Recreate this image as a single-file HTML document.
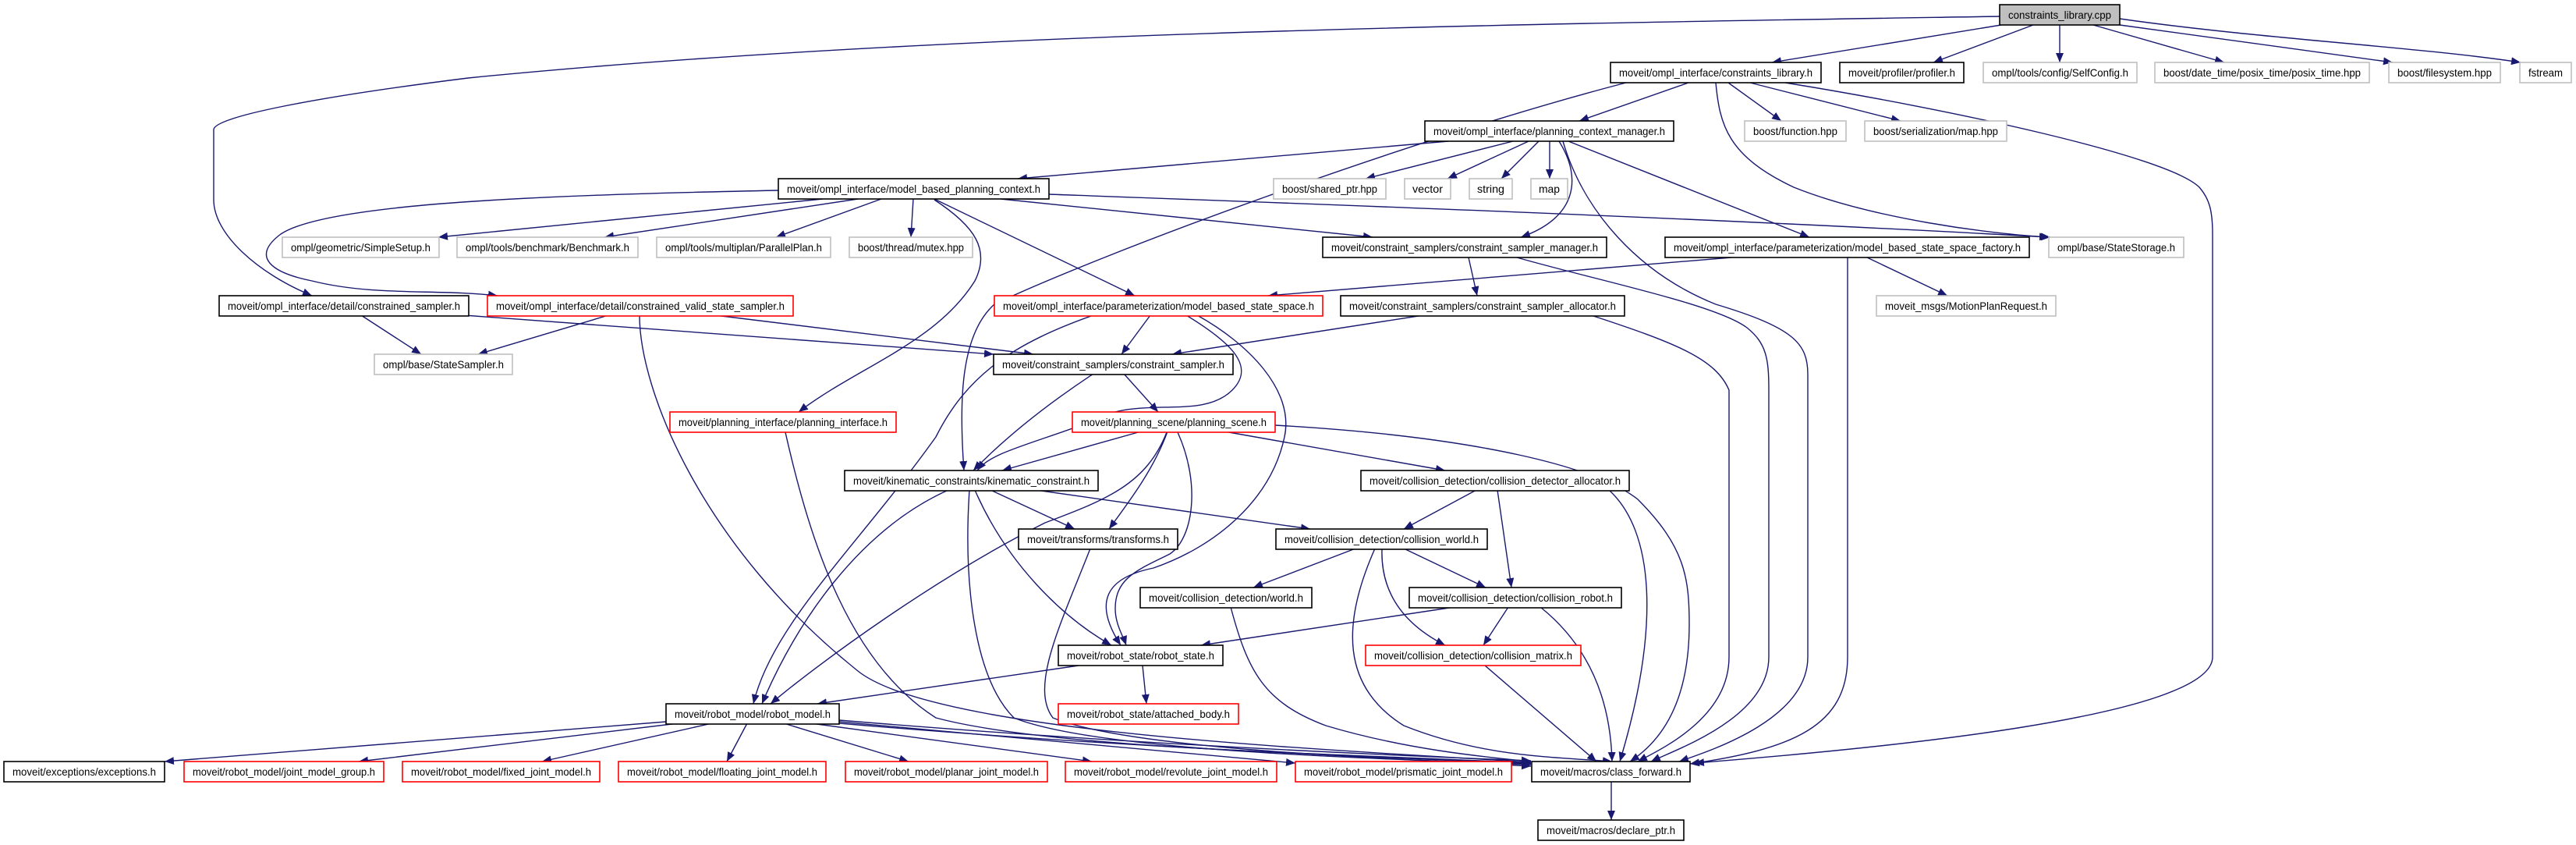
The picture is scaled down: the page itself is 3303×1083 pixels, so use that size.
<!DOCTYPE html>
<html><head><meta charset="utf-8"><style>
html,body{margin:0;padding:0;background:#fff;}
svg{display:block;}
text{font-family:"Liberation Sans",Arial,sans-serif;font-size:14px;fill:#000;}
.e{fill:none;stroke:#191970;stroke-width:1.4;}
.b{fill:#fff;stroke:#000;stroke-width:1.6;}
.g{fill:#fff;stroke:#bfbfbf;stroke-width:1.6;}
.r{fill:#fff;stroke:#ff0000;stroke-width:1.6;}
.c{fill:#bfbfbf;stroke:#000;stroke-width:1.6;}
</style></head><body>
<svg width="3303" height="1083" viewBox="0 0 3303 1083" xmlns="http://www.w3.org/2000/svg">
<defs>
<marker id="a" markerUnits="userSpaceOnUse" markerWidth="14" markerHeight="10" refX="12" refY="5" orient="auto">
<path d="M0,0 L12,5 L0,10 z" fill="#191970"/>
</marker>
</defs>
<g class="edges">
<path class="e" marker-end="url(#a)" d="M2566,32 L2272,80"/>
<path class="e" marker-end="url(#a)" d="M2607,32 L2479,80"/>
<path class="e" marker-end="url(#a)" d="M2641,32 L2641,80"/>
<path class="e" marker-end="url(#a)" d="M2684,32 L2852,80"/>
<path class="e" marker-end="url(#a)" d="M2718,32 L3068,80"/>
<path class="e" marker-end="url(#a)" d="M2718,24 C2900,50 3100,60 3232,80"/>
<path class="e" marker-end="url(#a)" d="M2564,21 C2000,30 1200,40 600,100 C400,125 275,150 274,166 L274,256 C274,300 330,350 400,379"/>
<path class="e" marker-end="url(#a)" d="M2165,106 L2025,155"/>
<path class="e" marker-end="url(#a)" d="M2216,106 L2284,155"/>
<path class="e" marker-end="url(#a)" d="M2244,106 L2437,155"/>
<path class="e" marker-end="url(#a)" d="M2200,106 C2205,160 2215,200 2300,240 C2400,280 2550,300 2629,304"/>
<path class="e" marker-end="url(#a)" d="M2289,106 C2500,140 2780,200 2820,240 C2833,255 2837,270 2837,300 L2837,842 C2837,920 2400,960 2173,978"/>
<path class="e" marker-end="url(#a)" d="M2085,106 C1800,180 1400,330 1275,390 C1230,430 1230,520 1236,603"/>
<path class="e" marker-end="url(#a)" d="M1857,181 L1305,229"/>
<path class="e" marker-end="url(#a)" d="M1940,181 L1751,229"/>
<path class="e" marker-end="url(#a)" d="M1960,181 L1856,229"/>
<path class="e" marker-end="url(#a)" d="M1973,181 L1925,229"/>
<path class="e" marker-end="url(#a)" d="M1987,181 L1987,229"/>
<path class="e" marker-end="url(#a)" d="M1999,181 C2030,230 2020,280 1950,304"/>
<path class="e" marker-end="url(#a)" d="M2011,181 L2320,304"/>
<path class="e" marker-end="url(#a)" d="M2004,181 C2030,270 2100,350 2200,390 C2300,420 2318,440 2318,480 L2318,842 C2318,920 2200,960 2153,976"/>
<path class="e" marker-end="url(#a)" d="M1055,255 L562,304"/>
<path class="e" marker-end="url(#a)" d="M1100,255 L775,304"/>
<path class="e" marker-end="url(#a)" d="M1130,255 L995,304"/>
<path class="e" marker-end="url(#a)" d="M1171,255 L1168,304"/>
<path class="e" marker-end="url(#a)" d="M998,244 C700,250 420,260 360,300 C320,330 350,350 400,360 C480,380 560,370 638,379"/>
<path class="e" marker-end="url(#a)" d="M1345,249 C1700,262 2200,280 2627,304"/>
<path class="e" marker-end="url(#a)" d="M1283,255 L1760,304"/>
<path class="e" marker-end="url(#a)" d="M1198,255 L1455,379"/>
<path class="e" marker-end="url(#a)" d="M1198,256 C1250,290 1270,320 1250,360 C1200,440 1100,470 1024,528"/>
<path class="e" marker-end="url(#a)" d="M463,404 L540,454"/>
<path class="e" marker-end="url(#a)" d="M595,404 L1274,454"/>
<path class="e" marker-end="url(#a)" d="M780,404 L613,454"/>
<path class="e" marker-end="url(#a)" d="M917,404 L1325,454"/>
<path class="e" marker-end="url(#a)" d="M820,404 C820,500 900,700 1100,860 C1200,940 1700,960 1963,977"/>
<path class="e" marker-end="url(#a)" d="M1475,404 L1438,454"/>
<path class="e" marker-end="url(#a)" d="M1521,404 C1580,440 1610,470 1580,500 C1540,540 1460,505 1400,540 C1320,570 1270,580 1253,603"/>
<path class="e" marker-end="url(#a)" d="M1402,404 C1300,440 1240,480 1200,560 C1100,700 990,800 966,902"/>
<path class="e" marker-end="url(#a)" d="M1535,404 C1600,440 1660,500 1647,560 C1630,640 1560,700 1479,728 C1420,740 1400,770 1437,827"/>
<path class="e" marker-end="url(#a)" d="M1883,330 L1894,379"/>
<path class="e" marker-end="url(#a)" d="M1945,330 C2050,360 2200,390 2240,420 C2265,440 2268,460 2268,500 L2268,842 C2268,920 2150,960 2117,976"/>
<path class="e" marker-end="url(#a)" d="M2220,330 L1626,379"/>
<path class="e" marker-end="url(#a)" d="M2394,330 L2497,379"/>
<path class="e" marker-end="url(#a)" d="M2369,330 L2369,842 C2369,930 2300,960 2167,979"/>
<path class="e" marker-end="url(#a)" d="M1825,404 L1503,454"/>
<path class="e" marker-end="url(#a)" d="M2040,404 C2150,440 2200,460 2217,500 L2217,842 C2217,920 2130,960 2100,976"/>
<path class="e" marker-end="url(#a)" d="M1402,479 C1340,520 1290,560 1248,603"/>
<path class="e" marker-end="url(#a)" d="M1441,479 L1485,528"/>
<path class="e" marker-end="url(#a)" d="M1007,554 C1040,700 1090,850 1200,920 C1350,960 1700,965 1963,978"/>
<path class="e" marker-end="url(#a)" d="M1463,553 L1285,603"/>
<path class="e" marker-end="url(#a)" d="M1570,553 L1853,603"/>
<path class="e" marker-end="url(#a)" d="M1497,553 C1480,600 1450,640 1422,678"/>
<path class="e" marker-end="url(#a)" d="M1510,554 C1540,620 1530,690 1500,710 C1460,730 1430,740 1430,780 C1430,800 1440,815 1444,827"/>
<path class="e" marker-end="url(#a)" d="M1496,554 C1470,620 1420,640 1340,670 C1200,740 1050,850 988,902"/>
<path class="e" marker-end="url(#a)" d="M1635,545 C1900,560 2050,600 2100,640 C2160,700 2166,740 2166,800 C2166,900 2130,950 2090,976"/>
<path class="e" marker-end="url(#a)" d="M1270,628 L1378,678"/>
<path class="e" marker-end="url(#a)" d="M1328,628 L1680,678"/>
<path class="e" marker-end="url(#a)" d="M1250,628 C1290,720 1360,790 1425,827"/>
<path class="e" marker-end="url(#a)" d="M1216,628 C1100,680 1020,800 977,902"/>
<path class="e" marker-end="url(#a)" d="M1243,628 C1235,750 1250,870 1300,920 C1400,960 1700,970 1963,980"/>
<path class="e" marker-end="url(#a)" d="M1398,703 C1360,800 1320,880 1350,920 C1450,960 1750,970 1963,982"/>
<path class="e" marker-end="url(#a)" d="M1893,628 L1800,678"/>
<path class="e" marker-end="url(#a)" d="M1920,628 L1938,753"/>
<path class="e" marker-end="url(#a)" d="M2063,628 C2120,680 2130,800 2077,976"/>
<path class="e" marker-end="url(#a)" d="M1738,703 L1607,753"/>
<path class="e" marker-end="url(#a)" d="M1800,703 L1905,753"/>
<path class="e" marker-end="url(#a)" d="M1772,703 C1770,760 1800,800 1853,827"/>
<path class="e" marker-end="url(#a)" d="M1763,703 C1720,800 1720,880 1800,930 C1900,970 1990,970 2067,976"/>
<path class="e" marker-end="url(#a)" d="M1578,778 C1600,860 1620,900 1700,930 C1800,960 1900,970 1963,976"/>
<path class="e" marker-end="url(#a)" d="M1865,778 L1540,827"/>
<path class="e" marker-end="url(#a)" d="M1934,778 L1902,827"/>
<path class="e" marker-end="url(#a)" d="M1975,778 C2040,830 2065,900 2067,976"/>
<path class="e" marker-end="url(#a)" d="M1465,853 L1470,902"/>
<path class="e" marker-end="url(#a)" d="M1383,853 L1048,902"/>
<path class="e" marker-end="url(#a)" d="M1904,853 L2047,976"/>
<path class="e" marker-end="url(#a)" d="M854,925 L211,976"/>
<path class="e" marker-end="url(#a)" d="M870,927 L460,976"/>
<path class="e" marker-end="url(#a)" d="M913,927 L695,976"/>
<path class="e" marker-end="url(#a)" d="M958,927 L932,976"/>
<path class="e" marker-end="url(#a)" d="M1005,927 L1165,976"/>
<path class="e" marker-end="url(#a)" d="M1040,927 L1400,976"/>
<path class="e" marker-end="url(#a)" d="M1076,925 L1661,978"/>
<path class="e" marker-end="url(#a)" d="M1076,923 C1400,950 1700,965 1963,975"/>
<path class="e" marker-end="url(#a)" d="M1076,927 C1400,955 1700,968 1963,979"/>
<path class="e" marker-end="url(#a)" d="M2066,1002 L2066,1051"/>
</g>
<g class="nodes">
<rect class="c" x="2564" y="6" width="154" height="26"/><text x="2575" y="24" textLength="132" lengthAdjust="spacingAndGlyphs">constraints_library.cpp</text>
<rect class="b" x="2065" y="80" width="270" height="26"/><text x="2076" y="98" textLength="248" lengthAdjust="spacingAndGlyphs">moveit/ompl_interface/constraints_library.h</text>
<rect class="b" x="2359" y="80" width="159" height="26"/><text x="2370" y="98" textLength="137" lengthAdjust="spacingAndGlyphs">moveit/profiler/profiler.h</text>
<rect class="g" x="2543" y="80" width="197" height="26"/><text x="2554" y="98" textLength="175" lengthAdjust="spacingAndGlyphs">ompl/tools/config/SelfConfig.h</text>
<rect class="g" x="2763" y="80" width="275" height="26"/><text x="2774" y="98" textLength="253" lengthAdjust="spacingAndGlyphs">boost/date_time/posix_time/posix_time.hpp</text>
<rect class="g" x="3063" y="80" width="143" height="26"/><text x="3074" y="98" textLength="121" lengthAdjust="spacingAndGlyphs">boost/filesystem.hpp</text>
<rect class="g" x="3231" y="80" width="66" height="26"/><text x="3242" y="98" textLength="44" lengthAdjust="spacingAndGlyphs">fstream</text>
<rect class="b" x="1827" y="155" width="319" height="26"/><text x="1838" y="173" textLength="297" lengthAdjust="spacingAndGlyphs">moveit/ompl_interface/planning_context_manager.h</text>
<rect class="g" x="2237" y="155" width="130" height="26"/><text x="2248" y="173" textLength="108" lengthAdjust="spacingAndGlyphs">boost/function.hpp</text>
<rect class="g" x="2391" y="155" width="182" height="26"/><text x="2402" y="173" textLength="160" lengthAdjust="spacingAndGlyphs">boost/serialization/map.hpp</text>
<rect class="b" x="998" y="229" width="347" height="26"/><text x="1009" y="247" textLength="325" lengthAdjust="spacingAndGlyphs">moveit/ompl_interface/model_based_planning_context.h</text>
<rect class="g" x="1633" y="229" width="144" height="26"/><text x="1644" y="247" textLength="122" lengthAdjust="spacingAndGlyphs">boost/shared_ptr.hpp</text>
<rect class="g" x="1801" y="229" width="59" height="26"/><text x="1811" y="247" textLength="39" lengthAdjust="spacingAndGlyphs">vector</text>
<rect class="g" x="1884" y="229" width="55" height="26"/><text x="1894" y="247" textLength="35" lengthAdjust="spacingAndGlyphs">string</text>
<rect class="g" x="1963" y="229" width="47" height="26"/><text x="1973" y="247" textLength="27" lengthAdjust="spacingAndGlyphs">map</text>
<rect class="g" x="362" y="304" width="201" height="26"/><text x="373" y="322" textLength="179" lengthAdjust="spacingAndGlyphs">ompl/geometric/SimpleSetup.h</text>
<rect class="g" x="586" y="304" width="232" height="26"/><text x="597" y="322" textLength="210" lengthAdjust="spacingAndGlyphs">ompl/tools/benchmark/Benchmark.h</text>
<rect class="g" x="842" y="304" width="223" height="26"/><text x="853" y="322" textLength="201" lengthAdjust="spacingAndGlyphs">ompl/tools/multiplan/ParallelPlan.h</text>
<rect class="g" x="1089" y="304" width="158" height="26"/><text x="1100" y="322" textLength="136" lengthAdjust="spacingAndGlyphs">boost/thread/mutex.hpp</text>
<rect class="b" x="1696" y="304" width="364" height="26"/><text x="1707" y="322" textLength="342" lengthAdjust="spacingAndGlyphs">moveit/constraint_samplers/constraint_sampler_manager.h</text>
<rect class="b" x="2135" y="304" width="467" height="26"/><text x="2146" y="322" textLength="445" lengthAdjust="spacingAndGlyphs">moveit/ompl_interface/parameterization/model_based_state_space_factory.h</text>
<rect class="g" x="2627" y="304" width="173" height="26"/><text x="2638" y="322" textLength="151" lengthAdjust="spacingAndGlyphs">ompl/base/StateStorage.h</text>
<rect class="b" x="281" y="379" width="320" height="26"/><text x="292" y="397" textLength="298" lengthAdjust="spacingAndGlyphs">moveit/ompl_interface/detail/constrained_sampler.h</text>
<rect class="r" x="625" y="379" width="392" height="26"/><text x="636" y="397" textLength="370" lengthAdjust="spacingAndGlyphs">moveit/ompl_interface/detail/constrained_valid_state_sampler.h</text>
<rect class="r" x="1275" y="379" width="421" height="26"/><text x="1286" y="397" textLength="399" lengthAdjust="spacingAndGlyphs">moveit/ompl_interface/parameterization/model_based_state_space.h</text>
<rect class="b" x="1719" y="379" width="364" height="26"/><text x="1730" y="397" textLength="342" lengthAdjust="spacingAndGlyphs">moveit/constraint_samplers/constraint_sampler_allocator.h</text>
<rect class="g" x="2406" y="379" width="230" height="26"/><text x="2417" y="397" textLength="208" lengthAdjust="spacingAndGlyphs">moveit_msgs/MotionPlanRequest.h</text>
<rect class="g" x="480" y="454" width="177" height="26"/><text x="491" y="472" textLength="155" lengthAdjust="spacingAndGlyphs">ompl/base/StateSampler.h</text>
<rect class="b" x="1274" y="454" width="307" height="26"/><text x="1285" y="472" textLength="285" lengthAdjust="spacingAndGlyphs">moveit/constraint_samplers/constraint_sampler.h</text>
<rect class="r" x="859" y="528" width="290" height="26"/><text x="870" y="546" textLength="268" lengthAdjust="spacingAndGlyphs">moveit/planning_interface/planning_interface.h</text>
<rect class="r" x="1375" y="528" width="260" height="26"/><text x="1386" y="546" textLength="238" lengthAdjust="spacingAndGlyphs">moveit/planning_scene/planning_scene.h</text>
<rect class="b" x="1083" y="603" width="325" height="26"/><text x="1094" y="621" textLength="303" lengthAdjust="spacingAndGlyphs">moveit/kinematic_constraints/kinematic_constraint.h</text>
<rect class="b" x="1745" y="603" width="344" height="26"/><text x="1756" y="621" textLength="322" lengthAdjust="spacingAndGlyphs">moveit/collision_detection/collision_detector_allocator.h</text>
<rect class="b" x="1306" y="678" width="204" height="26"/><text x="1317" y="696" textLength="182" lengthAdjust="spacingAndGlyphs">moveit/transforms/transforms.h</text>
<rect class="b" x="1636" y="678" width="271" height="26"/><text x="1647" y="696" textLength="249" lengthAdjust="spacingAndGlyphs">moveit/collision_detection/collision_world.h</text>
<rect class="b" x="1462" y="753" width="220" height="26"/><text x="1473" y="771" textLength="198" lengthAdjust="spacingAndGlyphs">moveit/collision_detection/world.h</text>
<rect class="b" x="1807" y="753" width="272" height="26"/><text x="1818" y="771" textLength="250" lengthAdjust="spacingAndGlyphs">moveit/collision_detection/collision_robot.h</text>
<rect class="b" x="1357" y="827" width="211" height="26"/><text x="1368" y="845" textLength="189" lengthAdjust="spacingAndGlyphs">moveit/robot_state/robot_state.h</text>
<rect class="r" x="1751" y="827" width="276" height="26"/><text x="1762" y="845" textLength="254" lengthAdjust="spacingAndGlyphs">moveit/collision_detection/collision_matrix.h</text>
<rect class="r" x="1357" y="902" width="231" height="26"/><text x="1368" y="920" textLength="209" lengthAdjust="spacingAndGlyphs">moveit/robot_state/attached_body.h</text>
<rect class="b" x="854" y="902" width="222" height="26"/><text x="865" y="920" textLength="200" lengthAdjust="spacingAndGlyphs">moveit/robot_model/robot_model.h</text>
<rect class="b" x="5" y="976" width="206" height="26"/><text x="16" y="994" textLength="184" lengthAdjust="spacingAndGlyphs">moveit/exceptions/exceptions.h</text>
<rect class="r" x="236" y="976" width="256" height="26"/><text x="247" y="994" textLength="234" lengthAdjust="spacingAndGlyphs">moveit/robot_model/joint_model_group.h</text>
<rect class="r" x="516" y="976" width="253" height="26"/><text x="527" y="994" textLength="231" lengthAdjust="spacingAndGlyphs">moveit/robot_model/fixed_joint_model.h</text>
<rect class="r" x="793" y="976" width="266" height="26"/><text x="804" y="994" textLength="244" lengthAdjust="spacingAndGlyphs">moveit/robot_model/floating_joint_model.h</text>
<rect class="r" x="1084" y="976" width="259" height="26"/><text x="1095" y="994" textLength="237" lengthAdjust="spacingAndGlyphs">moveit/robot_model/planar_joint_model.h</text>
<rect class="r" x="1366" y="976" width="271" height="26"/><text x="1377" y="994" textLength="249" lengthAdjust="spacingAndGlyphs">moveit/robot_model/revolute_joint_model.h</text>
<rect class="r" x="1661" y="976" width="277" height="26"/><text x="1672" y="994" textLength="255" lengthAdjust="spacingAndGlyphs">moveit/robot_model/prismatic_joint_model.h</text>
<rect class="b" x="1964" y="976" width="203" height="26"/><text x="1975" y="994" textLength="181" lengthAdjust="spacingAndGlyphs">moveit/macros/class_forward.h</text>
<rect class="b" x="1972" y="1051" width="187" height="26"/><text x="1983" y="1069" textLength="165" lengthAdjust="spacingAndGlyphs">moveit/macros/declare_ptr.h</text>
</g>
</svg>
</body></html>
